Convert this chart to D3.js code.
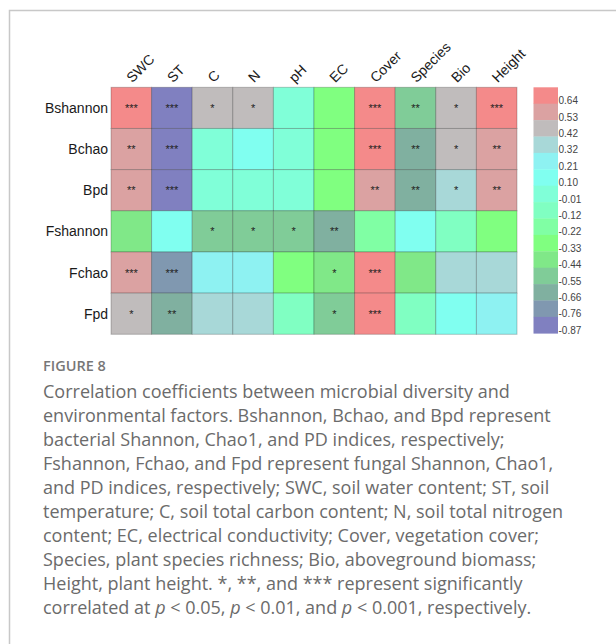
<!DOCTYPE html>
<html>
<head>
<meta charset="utf-8">
<script src="https://cdn.jsdelivr.net/npm/d3@7"></script>
<style>
  html, body { margin: 0; padding: 0; background: #fff; }
  svg { display: block; }
</style>
</head>
<body>
<svg id="fig" width="616" height="644"></svg>
<script>
// Diversity indices (rows) and environmental factors (columns)
const indices = ["Bshannon", "Bchao", "Bpd", "Fshannon", "Fchao", "Fpd"];
const factors = ["SWC", "ST", "C", "N", "pH", "EC", "Cover", "Species", "Bio", "Height"];

// Correlation coefficients, one array per diversity index
const rBshannon = [0.65, -0.86, 0.43, 0.42, -0.02, -0.32, 0.64, -0.55, 0.41, 0.63];
const rBchao    = [0.54, -0.85, -0.03, 0.11, -0.01, -0.33, 0.63, -0.66, 0.42, 0.52];
const rBpd      = [0.53, -0.86, -0.02, -0.01, 0.00, -0.34, 0.54, -0.65, 0.31, 0.53];
const rFshannon = [-0.44, 0.10, -0.54, -0.55, -0.53, -0.66, -0.26, 0.09, -0.14, -0.30];
const rFchao    = [0.53, -0.76, 0.21, 0.20, -0.33, -0.44, 0.64, -0.44, 0.32, 0.31];
const rFpd      = [0.42, -0.66, 0.31, 0.32, -0.12, -0.55, 0.65, -0.12, 0.10, 0.21];

// Significance marks, same layout
const sBshannon = ["***", "***", "*", "*", "", "", "***", "**", "*", "***"];
const sBchao    = ["**", "***", "", "", "", "", "***", "**", "*", "**"];
const sBpd      = ["**", "***", "", "", "", "", "**", "**", "*", "**"];
const sFshannon = ["", "", "*", "*", "*", "**", "", "", "", ""];
const sFchao    = ["***", "***", "", "", "", "*", "***", "", "", ""];
const sFpd      = ["*", "**", "", "", "", "*", "***", "", "", ""];

const corr = [rBshannon, rBchao, rBpd, rFshannon, rFchao, rFpd];
const signif = [sBshannon, sBchao, sBpd, sFshannon, sFchao, sFpd];

// Colour key tick labels, top to bottom
const keyTicks = ["0.64", "0.53", "0.42", "0.32", "0.21", "0.10", "-0.01", "-0.12",
                  "-0.22", "-0.33", "-0.44", "-0.55", "-0.66", "-0.76", "-0.87"];

// Palette from the lowest bin to the highest
const palette = ["#8080c0", "#8098b0", "#80b0a0", "#80cc98", "#80e888", "#80ff80",
                 "#80ffa4", "#80ffc2", "#80ffd8", "#80fff0", "#8ef2f2", "#a8d8d8",
                 "#c0bcbc", "#dba2a2", "#f48a8a"];

const color = d3.scaleQuantize().domain([-0.925, 0.695]).range(palette);

const svg = d3.select("#fig");

// Panel frame
svg.append("rect")
  .attr("x", 9.5).attr("y", 10.5)
  .attr("width", 800).attr("height", 800)
  .attr("fill", "none").attr("stroke", "#c8c8c8").attr("stroke-width", 1.5);

const gridLeft = 111, gridTop = 87.3, gridRight = 517, gridBottom = 334.3;

const x = d3.scaleBand().domain(factors).range([gridLeft, gridRight]);
const y = d3.scaleBand().domain(indices).range([gridTop, gridBottom]);

const cells = [];
indices.forEach((r, i) => factors.forEach((c, j) => {
  cells.push({ row: r, col: c, v: corr[i][j], s: signif[i][j] });
}));

const g = svg.append("g");

g.selectAll("rect.cell").data(cells).join("rect")
  .attr("class", "cell")
  .attr("x", d => x(d.col))
  .attr("y", d => y(d.row))
  .attr("width", x.bandwidth())
  .attr("height", y.bandwidth())
  .attr("fill", d => color(d.v))
  .attr("stroke", "rgba(0,0,0,0.22)")
  .attr("stroke-width", 1);

g.selectAll("text.star").data(cells.filter(d => d.s)).join("text")
  .attr("class", "star")
  .attr("x", d => x(d.col) + x.bandwidth() / 2)
  .attr("y", d => y(d.row) + y.bandwidth() / 2 + 4)
  .attr("text-anchor", "middle")
  .attr("font-family", "Liberation Sans, Arial, sans-serif")
  .attr("font-size", 11)
  .attr("fill", "#222")
  .text(d => d.s);

// Row labels
svg.selectAll("text.rowlab").data(indices).join("text")
  .attr("class", "rowlab")
  .attr("x", gridLeft - 3)
  .attr("y", d => y(d) + y.bandwidth() / 2 + 5)
  .attr("text-anchor", "end")
  .attr("font-family", "Liberation Sans, Arial, sans-serif")
  .attr("font-size", 14)
  .attr("fill", "#1a1a1a")
  .text(d => d);

// Column labels, rotated
svg.selectAll("text.collab").data(factors).join("text")
  .attr("class", "collab")
  .attr("transform", d => `translate(${x(d) + x.bandwidth() / 2 + 1},${gridTop - 4}) rotate(-45)`)
  .attr("text-anchor", "start")
  .attr("font-family", "Liberation Sans, Arial, sans-serif")
  .attr("font-size", 14)
  .attr("fill", "#1a1a1a")
  .text(d => d);

// Colour key
const keyX = 533.5, keyW = 24.5, keyTop = 87.3, keyBottom = 333.3;
const keyScale = d3.scaleBand().domain(keyTicks).range([keyTop, keyBottom]);
const keyColors = palette.slice().reverse();

const key = svg.append("g");
key.selectAll("rect").data(keyTicks).join("rect")
  .attr("x", keyX)
  .attr("y", d => keyScale(d))
  .attr("width", keyW)
  .attr("height", keyScale.bandwidth() + 0.3)
  .attr("fill", (d, i) => keyColors[i]);

key.selectAll("text").data(keyTicks).join("text")
  .attr("x", keyX + keyW + 0.5)
  .attr("y", d => keyScale(d) + keyScale.bandwidth() + 0.5)
  .attr("font-family", "Liberation Sans, Arial, sans-serif")
  .attr("font-size", 10)
  .attr("fill", "#444")
  .text(d => d);

// Caption
svg.append("text")
  .attr("x", 43).attr("y", 371)
  .attr("font-family", "Open Sans, sans-serif")
  .attr("font-size", 14.5)
  .attr("font-weight", 600)
  .attr("fill", "#777")
  .text("FIGURE 8");

const captionLines = [
  "Correlation coefficients between microbial diversity and",
  "environmental factors. Bshannon, Bchao, and Bpd represent",
  "bacterial Shannon, Chao1, and PD indices, respectively;",
  "Fshannon, Fchao, and Fpd represent fungal Shannon, Chao1,",
  "and PD indices, respectively; SWC, soil water content; ST, soil",
  "temperature; C, soil total carbon content; N, soil total nitrogen",
  "content; EC, electrical conductivity; Cover, vegetation cover;",
  "Species, plant species richness; Bio, aboveground biomass;",
  "Height, plant height. *, **, and *** represent significantly"
];

const cap = svg.append("g")
  .attr("font-family", "Open Sans, sans-serif")
  .attr("font-size", 18)
  .attr("fill", "#6b6b6b");

captionLines.forEach((t, i) => {
  cap.append("text").attr("x", 43).attr("y", 398 + i * 24).text(t);
});

const last = cap.append("text").attr("x", 43).attr("y", 398 + 9 * 24);
[["correlated at ", false], ["p", true], [" < 0.05, ", false], ["p", true],
 [" < 0.01, and ", false], ["p", true], [" < 0.001, respectively.", false]]
  .forEach(([t, it]) => {
    last.append("tspan").attr("font-style", it ? "italic" : null).text(t);
  });
</script>
</body>
</html>
